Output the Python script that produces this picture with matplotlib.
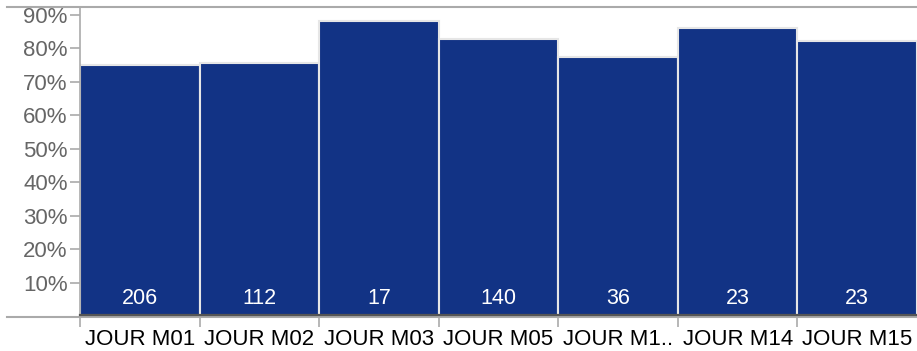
import matplotlib
matplotlib.use("Agg")
import matplotlib.pyplot as plt
from matplotlib.lines import Line2D
import numpy as np

# shift names, success rate (%) and ticket counts
categories = ["JOUR M01", "JOUR M02", "JOUR M03", "JOUR M05", "JOUR M1..", "JOUR M14", "JOUR M15"]
rates = [75.0, 75.6, 88.1, 82.7, 77.4, 86.1, 82.1]
counts = [206, 112, 17, 140, 36, 23, 23]
y_ticks = [10, 20, 30, 40, 50, 60, 70, 80, 90]

plt.rcParams['font.family'] = ['Liberation Sans', 'DejaVu Sans']

W, H = 917, 351
fig = plt.figure(figsize=(W / 100, H / 100), dpi=100)
left, right, top, bottom = 80, 917, 7, 316.2
ax = fig.add_axes([left / W, 1 - bottom / H, (right - left) / W, (bottom - top) / H])

x = np.arange(len(categories))
bars = ax.bar(x, rates, width=1.0, align='edge', color='#123385',
              edgecolor='#e6e6e6', linewidth=1.5, zorder=2)

for xi, c in zip(x, counts):
    ax.text(xi + 0.5, 5.4, str(c), ha='center', va='center',
            color='white', fontsize=15.5, zorder=3)

ax.set_xlim(0, len(categories))
ax.set_ylim(0, 92.3)

ax.set_yticks(y_ticks)
ax.set_yticklabels([f"{v}%" for v in y_ticks])
ax.tick_params(axis='y', length=7, width=1.2, color='#aaaaaa',
               labelcolor='#666666', labelsize=16, pad=2)

# ticks on bar boundaries, labels centred under bars
ax.set_xticks(x)
ax.set_xticklabels([])
ax.set_xticks(x + 0.5, minor=True)
ax.set_xticklabels(categories, minor=True)
ax.tick_params(axis='x', which='major', length=8, width=1.2, color='#aaaaaa')
ax.tick_params(axis='x', which='minor', length=0, labelsize=16, labelcolor='black', pad=9)

for s in ['top', 'right', 'bottom']:
    ax.spines[s].set_visible(False)
ax.spines['left'].set_color('#aaaaaa')
ax.spines['left'].set_linewidth(1.2)

# frame lines reaching past the plot area
fig.add_artist(Line2D([7 / W, 1], [1 - 7 / H] * 2, color='#aaaaaa', lw=1.5))
fig.add_artist(Line2D([7 / W, 1], [1 - 316.8 / H] * 2, color='#aaaaaa', lw=1.5))
fig.add_artist(Line2D([left / W, 1], [1 - 315.2 / H] * 2, color='#555555', lw=1.6))

fig.savefig("out.png", dpi=100)
